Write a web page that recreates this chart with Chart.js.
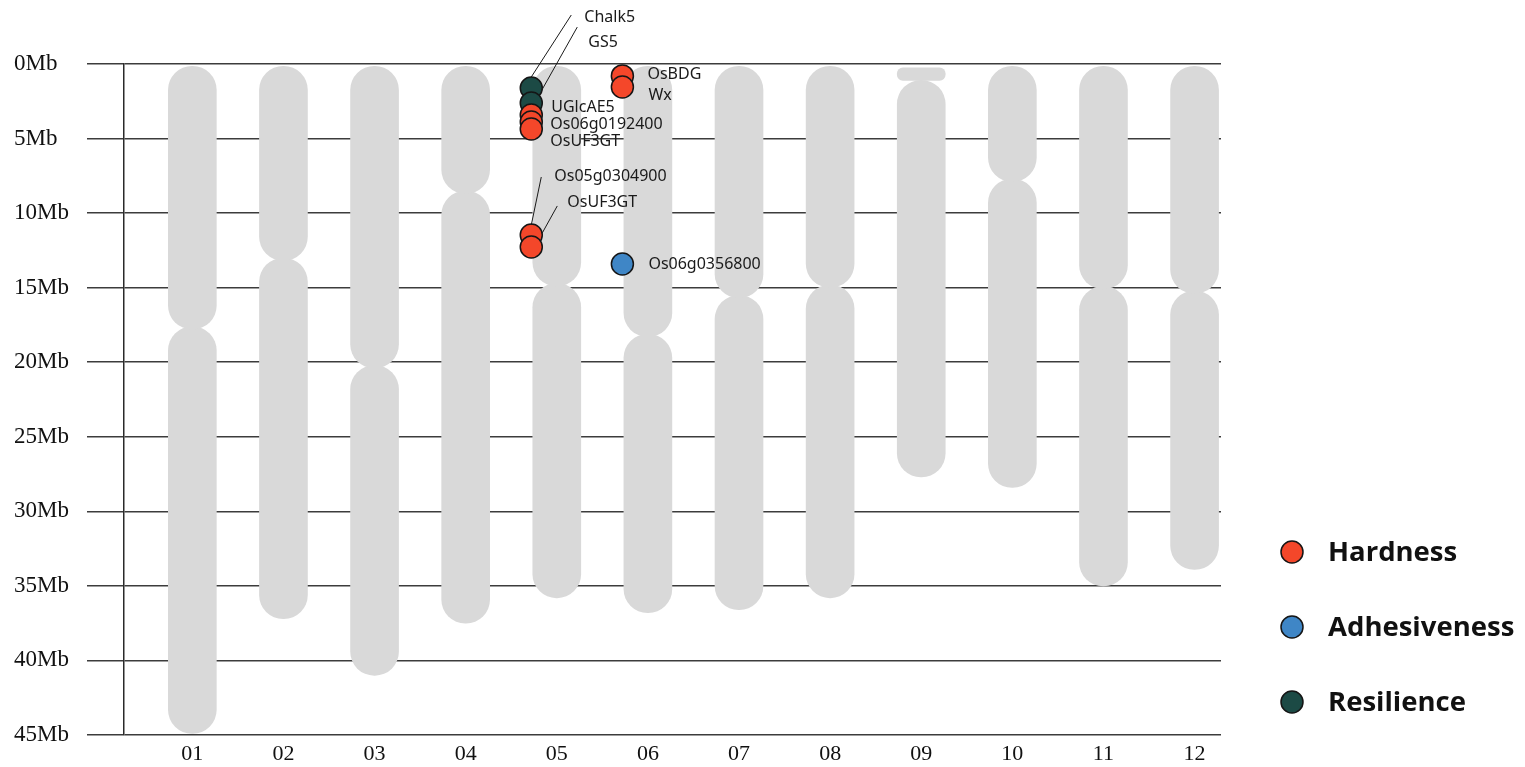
<!DOCTYPE html>
<html>
<head>
<meta charset="utf-8">
<title>Rice chromosome map</title>
<script src="https://cdn.jsdelivr.net/npm/chart.js@4.4.0/dist/chart.umd.min.js"></script>
<style>
  html, body { margin: 0; padding: 0; background: #fff; }
  .wrap { width: 1525px; height: 767px; position: relative; }
</style>
</head>
<body>
<div class="wrap"><canvas id="chromChart"></canvas></div>
<script>
// chromosomes, sizes in Mb
const chromosomes = ["01", "02", "03", "04", "05", "06", "07", "08", "09", "10", "11", "12"];
const armStart = [0.15, 0.15, 0.15, 0.15, 0.15, 0.15, 0.15, 0.15, 1.1, 0.15, 0.15, 0.15];
const centromere = [17.7, 13.1, 20.3, 8.6, 14.8, 18.2, 15.6, 14.9, null, 7.8, 15.0, 15.3];
const chromLength = [44.9, 37.2, 41.0, 37.5, 35.8, 36.8, 36.6, 35.8, 27.7, 28.4, 35.0, 33.9];
const satellite = [null, null, null, null, null, null, null, null, [0.25, 1.1], null, null, null];

// genes per trait: name, chromosome, position (Mb)
const hardnessGenes = ["UGlcAE5", "Os06g0192400", "OsUF3GT", "OsBDG", "Wx", "Os05g0304900", "OsUF3GT"];
const hardnessChr = [5, 5, 5, 6, 6, 5, 5];
const hardnessMb = [3.42, 3.89, 4.36, 0.8, 1.54, 11.47, 12.27];

const adhesivenessGenes = ["Os06g0356800"];
const adhesivenessChr = [6];
const adhesivenessMb = [13.41];

const resilienceGenes = ["Chalk5", "GS5"];
const resilienceChr = [5, 5];
const resilienceMb = [1.61, 2.62];

const yTicks = [0, 5, 10, 15, 20, 25, 30, 35, 40, 45];

// label placement next to each dot: [dx, dy] and optional leader line [x1, y1, x2, y2]
const hardnessLabelPos = [[20, -8], [19, 2], [19, 12], [25, -1], [26, 8], [23, -59, 10, -58, 0, -10], [36, -45, 26, -41, 11, -14]];
const adhesivenessLabelPos = [[26, 0]];
const resilienceLabelPos = [[53, -71, 40, -73, 0, -11], [57, -61, 46, -76, 10, -12]];

const dotOffset = -0.28; // dots sit on the left edge of the chromosome
const pinch = 0.08;      // arms overlap a little at the centromere

function geneData(chr, mb) {
  return chr.map((c, i) => ({ x: c + dotOffset, y: mb[i] }));
}

const topArms = chromosomes.map((c, i) => ({
  x: i + 1,
  y: [armStart[i], centromere[i] !== null ? centromere[i] + pinch : chromLength[i]]
}));
const bottomArms = chromosomes
  .map((c, i) => centromere[i] !== null ? { x: i + 1, y: [centromere[i] - pinch, chromLength[i]] } : null)
  .filter(d => d);
const satellites = chromosomes.map((c, i) => satellite[i] ? { x: i + 1, y: satellite[i] } : null).filter(d => d);

const chromGrey = "#d9d9d9";

function armDataset(label, data, radius) {
  return {
    type: "bar",
    label: label,
    data: data,
    backgroundColor: chromGrey,
    borderWidth: 0,
    borderSkipped: false,
    borderRadius: radius,
    barThickness: 48,
    grouped: false,
    order: 10
  };
}

function geneDataset(label, genes, data, color, labelPos, order) {
  return {
    type: "scatter",
    label: label,
    genes: genes,
    labelPos: labelPos,
    data: data,
    pointRadius: 11,
    pointHoverRadius: 11,
    pointBackgroundColor: color,
    pointBorderColor: "#151515",
    pointBorderWidth: 1.5,
    backgroundColor: color,
    order: order
  };
}

// gene names and leader lines
const geneLabels = {
  id: "geneLabels",
  afterDatasetsDraw(chart) {
    const ctx = chart.ctx;
    const xs = chart.scales.x;
    const ys = chart.scales.y;
    ctx.save();
    ctx.font = '16px "Noto Sans"';
    ctx.fillStyle = "#1a1a1a";
    ctx.strokeStyle = "#1a1a1a";
    ctx.lineWidth = 1;
    ctx.textBaseline = "middle";
    ctx.textAlign = "left";
    chart.data.datasets.forEach(ds => {
      if (!ds.genes) return;
      ds.data.forEach((pt, i) => {
        const px = xs.getPixelForValue(pt.x);
        const py = ys.getPixelForValue(pt.y);
        const p = ds.labelPos[i];
        if (p.length > 2) {
          ctx.beginPath();
          ctx.moveTo(px + p[2], py + p[3]);
          ctx.lineTo(px + p[4], py + p[5]);
          ctx.stroke();
        }
        ctx.fillText(ds.genes[i], px + p[0], py + p[1]);
      });
    });
    ctx.restore();
  }
};

// legend on the right side
const traitLegend = {
  id: "traitLegend",
  afterDraw(chart) {
    const ctx = chart.ctx;
    const traits = chart.data.datasets.filter(ds => ds.genes);
    ctx.save();
    ctx.font = 'bold 27.5px "Open Sans"';
    ctx.textBaseline = "middle";
    ctx.textAlign = "left";
    traits.forEach((ds, i) => {
      const y = 552 + i * 75;
      ctx.beginPath();
      ctx.arc(1292, y, 11, 0, Math.PI * 2);
      ctx.fillStyle = ds.pointBackgroundColor;
      ctx.fill();
      ctx.lineWidth = 1.5;
      ctx.strokeStyle = "#151515";
      ctx.stroke();
      ctx.fillStyle = "#111";
      ctx.fillText(ds.label, 1328, y + 1);
    });
    ctx.restore();
  }
};

new Chart(document.getElementById("chromChart"), {
  type: "bar",
  data: {
    datasets: [
      geneDataset("Hardness", hardnessGenes, geneData(hardnessChr, hardnessMb), "#f4472a", hardnessLabelPos, 1),
      geneDataset("Adhesiveness", adhesivenessGenes, geneData(adhesivenessChr, adhesivenessMb), "#3f86c6", adhesivenessLabelPos, 2),
      geneDataset("Resilience", resilienceGenes, geneData(resilienceChr, resilienceMb), "#1c4a45", resilienceLabelPos, 3),
      armDataset("satellite", satellites, 6),
      armDataset("short arm", topArms, 24),
      armDataset("long arm", bottomArms, 24)
    ]
  },
  options: {
    responsive: true,
    maintainAspectRatio: false,
    animation: false,
    devicePixelRatio: 1,
    layout: { padding: { left: 14, right: 304, top: 64, bottom: 0 } },
    plugins: {
      legend: { display: false },
      tooltip: { enabled: false }
    },
    scales: {
      x: {
        type: "linear",
        min: 0.25,
        max: 12.29,
        offset: false,
        grid: { display: false, drawTicks: false },
        border: { display: false },
        afterBuildTicks: axis => {
          axis.ticks = chromosomes.map((c, i) => ({ value: i + 1 }));
        },
        afterFit: axis => { axis.height = 32; },
        ticks: {
          autoSkip: false,
          maxRotation: 0,
          padding: 6,
          color: "#111",
          font: { family: '"Liberation Serif"', size: 22 },
          callback: v => chromosomes[v - 1]
        }
      },
      y: {
        type: "linear",
        reverse: true,
        min: 0,
        max: 45,
        afterBuildTicks: axis => {
          axis.ticks = yTicks.map(v => ({ value: v }));
        },
        afterFit: axis => { axis.width = 110; },
        grid: { color: "#3c3c3c", lineWidth: 1.5, tickLength: 37, drawTicks: true },
        border: { display: true, color: "#2a2a2a", width: 1.5 },
        ticks: {
          crossAlign: "far",
          color: "#111",
          font: { family: '"Liberation Serif"', size: 23 },
          callback: v => v + "Mb"
        }
      }
    }
  },
  plugins: [geneLabels, traitLegend]
});
</script>
</body>
</html>
